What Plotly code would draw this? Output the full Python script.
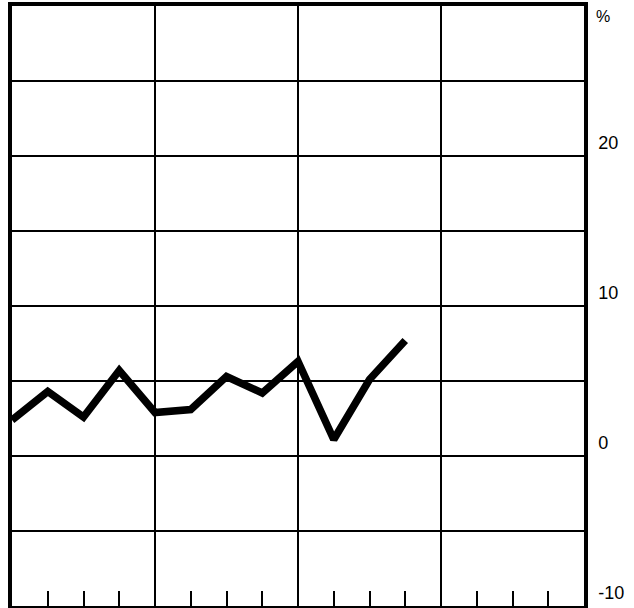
import plotly.graph_objects as go

# Quarterly series: percent change, quarters numbered from the start of the first year
quarters = [0, 1, 2, 3, 4, 5, 6, 7, 8, 9, 10, 11]
pct_change = [2.4, 4.3, 2.6, 5.7, 2.9, 3.1, 5.3, 4.2, 6.3, 1.1, 5.1, 7.7]

y_tick_values = [-10, 0, 10, 20]
y_tick_labels = ["-10", "0", "10", "20"]

fig = go.Figure()
fig.add_trace(go.Scatter(
    x=quarters,
    y=pct_change,
    mode="lines",
    line=dict(color="black", width=7.5),
    hoverinfo="skip",
    showlegend=False,
    cliponaxis=True,
))

fig.update_layout(
    width=634,
    height=608,
    margin=dict(l=12, r=50, t=4, b=2),
    paper_bgcolor="white",
    plot_bgcolor="white",
    font=dict(family="Liberation Sans, Arial, sans-serif", size=18, color="black"),
    xaxis=dict(
        range=[0, 16],
        tickvals=[0, 4, 8, 12, 16],
        showticklabels=False,
        ticks="",
        showgrid=True,
        gridcolor="black",
        gridwidth=1.5,
        zeroline=False,
        showline=True,
        linecolor="black",
        linewidth=3.5,
        mirror=True,
        minor=dict(
            tickvals=[1, 2, 3, 5, 6, 7, 9, 10, 11, 13, 14, 15],
            ticks="inside",
            ticklen=15,
            tickwidth=1.5,
            tickcolor="black",
            showgrid=False,
        ),
    ),
    yaxis=dict(
        range=[-10, 30],
        side="right",
        tickvals=y_tick_values,
        ticktext=y_tick_labels,
        ticks="",
        ticklabelshift=-13,
        ticklabelstandoff=7,
        showgrid=True,
        gridcolor="black",
        gridwidth=1.5,
        zeroline=False,
        showline=True,
        linecolor="black",
        linewidth=3.5,
        mirror=True,
        minor=dict(dtick=5, tick0=0, showgrid=True, gridcolor="black", gridwidth=1.5, ticks=""),
    ),
)

# Unit marker above the right-hand scale
fig.add_annotation(
    x=1, xref="paper", xshift=10, xanchor="left",
    y=30, yref="y", yshift=-10, yanchor="middle",
    text="%", showarrow=False, font=dict(size=16, color="black"),
)

fig.write_html("out.html")
